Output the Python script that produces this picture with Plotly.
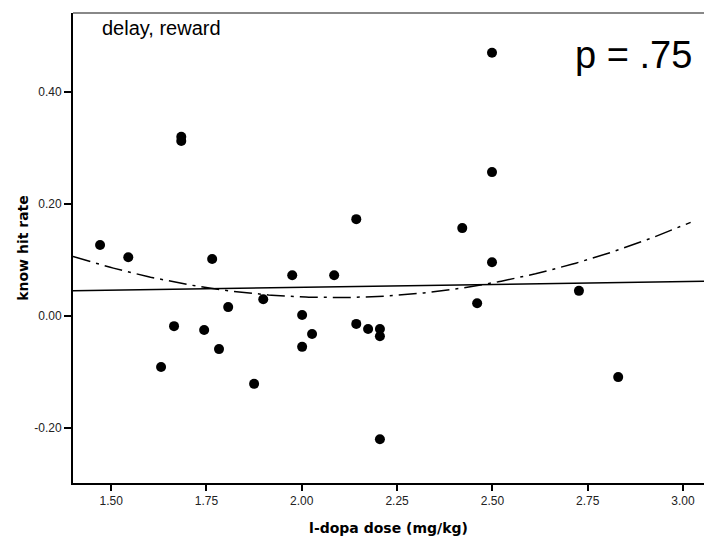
import numpy as np
import plotly.graph_objects as go

# data
dose = [1.471, 1.545, 1.631, 1.665, 1.684, 1.684, 1.744, 1.765, 1.783, 1.807,
        1.875, 1.899, 1.975, 2.001, 2.001, 2.027, 2.085, 2.143, 2.143, 2.174,
        2.205, 2.205, 2.205, 2.421, 2.460, 2.499, 2.499, 2.499, 2.727, 2.830]
know_hit = [0.127, 0.105, -0.091, -0.018, 0.320, 0.3125, -0.025, 0.102, -0.059, 0.016,
            -0.121, 0.030, 0.073, 0.002, -0.055, -0.032, 0.073, 0.173, -0.014, -0.023,
            -0.023, -0.036, -0.220, 0.157, 0.023, 0.470, 0.257, 0.096, 0.045, -0.109]
x_ticks = [1.50, 1.75, 2.00, 2.25, 2.50, 2.75, 3.00]
y_ticks = [-0.20, 0.00, 0.20, 0.40]
x_range = [1.40, 3.055]
y_range = [-0.298, 0.541]
fit_end = 3.02

xs = np.linspace(x_range[0], x_range[1], 200)
xq = np.linspace(x_range[0], fit_end, 200)
lin = np.polyval(np.polyfit(dose, know_hit, 1), xs)
quad = np.polyval(np.polyfit(dose, know_hit, 2), xq)

fig = go.Figure()
fig.add_trace(go.Scatter(x=xs, y=lin, mode="lines",
                         line=dict(color="black", width=1.5), hoverinfo="skip"))
fig.add_trace(go.Scatter(x=xq, y=quad, mode="lines",
                         line=dict(color="black", width=1.5, dash="18px,6px,3px,6px"),
                         hoverinfo="skip"))
fig.add_trace(go.Scatter(x=dose, y=know_hit, mode="markers",
                         marker=dict(color="black", size=10)))

fig.update_layout(
    width=704, height=539,
    margin=dict(l=73, r=0, t=13, b=56),
    paper_bgcolor="white", plot_bgcolor="white",
    showlegend=False,
    font=dict(family="Liberation Sans, Arial, sans-serif", color="#222"),
    shapes=[dict(type="line", xref="paper", yref="paper", x0=0, x1=1, y0=1, y1=1,
                 line=dict(color="#888", width=2))],
    annotations=[
        dict(text="delay, reward", xref="paper", yref="paper", x=0.043, y=0.995,
             xanchor="left", yanchor="top", showarrow=False,
             font=dict(size=20, color="black", family="Liberation Sans, Arial")),
        dict(text="p = .75", xref="paper", yref="paper", x=0.984, y=0.96,
             xanchor="right", yanchor="top", showarrow=False,
             font=dict(size=38, color="black", family="Liberation Sans, Arial")),
    ],
)
fig.update_xaxes(range=x_range, tickvals=x_ticks, ticktext=[f"{v:.2f}" for v in x_ticks],
                 showgrid=False, zeroline=False, showline=True, linecolor="black", linewidth=2,
                 ticks="outside", ticklen=6, tickwidth=1.5, tickcolor="black",
                 tickfont=dict(size=12),
                 title=dict(text="<b>l-dopa dose (mg/kg)</b>", standoff=16,
                            font=dict(size=14, family="DejaVu Sans", color="black")))
fig.update_yaxes(range=y_range, tickvals=y_ticks, ticktext=[f"{v:.2f}" for v in y_ticks],
                 showgrid=False, zeroline=False, showline=True, linecolor="black", linewidth=2,
                 ticks="outside", ticklen=7, tickwidth=1.5, tickcolor="black",
                 tickfont=dict(size=12),
                 title=dict(text="<b>know hit rate</b>", standoff=2,
                            font=dict(size=14, family="DejaVu Sans", color="black")))

fig.write_html("out.html")
